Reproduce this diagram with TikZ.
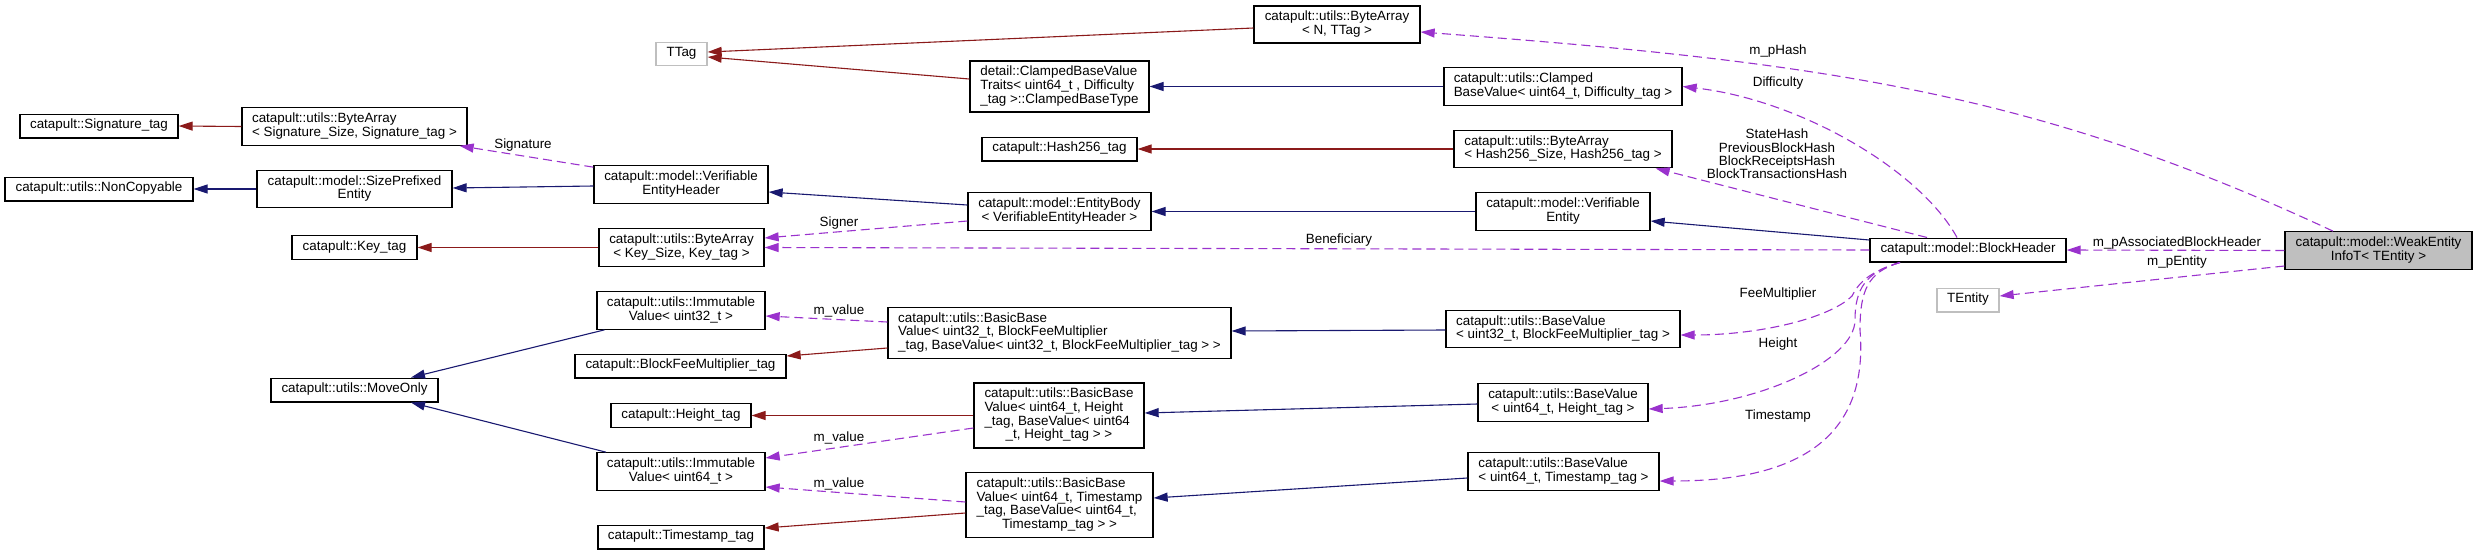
\documentclass[tikz,border=0pt]{standalone}
\usepackage{fontspec}
\setmainfont{Liberation Sans}
\usetikzlibrary{arrows.meta}

\definecolor{edgered}{HTML}{8B1A1A}
\definecolor{edgeblue}{HTML}{191970}
\definecolor{edgeviolet}{HTML}{9A32CD}
\definecolor{boxgray}{HTML}{BFBFBF}

\newcommand{\dxfont}{\fontsize{13.4}{13.3}\selectfont}
\newcommand{\lastln}[1]{\multicolumn{1}{@{}c@{}}{#1}}
\newcommand{\dxlines}[1]{\begin{tabular}{@{}l@{}}#1\end{tabular}}

\tikzset{
  cls/.style={draw=black, line width=1.3pt, fill=white, inner xsep=4pt, inner ysep=5pt, font=\dxfont},
  ghost/.style={cls, draw=boxgray},
  focus/.style={cls, fill=boxgray},
  lbl/.style={font=\dxfont, inner sep=0pt},
  tpl/.style={edgered, line width=1.1pt, -{Triangle[length=14pt,width=9pt]}},
  inh/.style={edgeblue, line width=1.1pt, -{Triangle[length=14pt,width=9pt]}},
  use/.style={edgeviolet, line width=1.1pt, dash pattern=on 9pt off 5pt, -{Triangle[length=14pt,width=9pt]}}
}

\begin{document}
\begin{tikzpicture}[x=1pt, y=-1pt]
  \useasboundingbox (0,0) rectangle (2477,555);

  % first column
  \node[cls, minimum width=158] (sigtag) at (99,126) {\dxlines{catapult::Signature\_tag}};
  \node[cls, minimum width=188] (noncopy) at (99,189) {\dxlines{catapult::utils::NonCopyable}};

  % second column
  \node[cls, minimum width=225] (basig) at (354.5,126.5) {\dxlines{catapult::utils::ByteArray\\\lastln{< Signature\_Size, Signature\_tag >}}};
  \node[cls, minimum width=195] (sizepre) at (354.5,189) {\dxlines{catapult::model::SizePrefixed\\\lastln{Entity}}};
  \node[cls, minimum width=125] (keytag) at (354.5,247.5) {\dxlines{catapult::Key\_tag}};
  \node[cls, minimum width=167] (moveonly) at (354.5,390) {\dxlines{catapult::utils::MoveOnly}};

  % third column
  \node[ghost, minimum width=51] (ttag) at (681.5,54) {\dxlines{TTag}};
  \node[cls, minimum width=174] (veh) at (681,184.5) {\dxlines{catapult::model::Verifiable\\\lastln{EntityHeader}}};
  \node[cls, minimum width=165] (bakey) at (681.5,247.5) {\dxlines{catapult::utils::ByteArray\\\lastln{< Key\_Size, Key\_tag >}}};
  \node[cls, minimum width=168] (imm32) at (681,310.5) {\dxlines{catapult::utils::Immutable\\\lastln{Value< uint32\_t >}}};
  \node[cls, minimum width=211] (feetag) at (680.5,366) {\dxlines{catapult::BlockFeeMultiplier\_tag}};
  \node[cls, minimum width=140] (heighttag) at (681,415.5) {\dxlines{catapult::Height\_tag}};
  \node[cls, minimum width=168] (imm64) at (681,471.5) {\dxlines{catapult::utils::Immutable\\\lastln{Value< uint64\_t >}}};
  \node[cls, minimum width=166] (tstag) at (681,537) {\dxlines{catapult::Timestamp\_tag}};

  % fourth column
  \node[cls, minimum width=179] (traits) at (1059.5,86.5) {\dxlines{detail::ClampedBaseValue\\Traits< uint64\_t , Difficulty\\\lastln{\_tag >::ClampedBaseType}}};
  \node[cls, minimum width=155] (hashtag) at (1059.5,149) {\dxlines{catapult::Hash256\_tag}};
  \node[cls, minimum width=183] (ebody) at (1059.5,211.5) {\dxlines{catapult::model::EntityBody\\\lastln{< VerifiableEntityHeader >}}};
  \node[cls, minimum width=343] (bbv32) at (1059.5,333) {\dxlines{catapult::utils::BasicBase\\Value< uint32\_t, BlockFeeMultiplier\\\lastln{\_tag, BaseValue< uint32\_t, BlockFeeMultiplier\_tag > >}}};
  \node[cls, minimum width=170] (bbvh) at (1059,415.5) {\dxlines{catapult::utils::BasicBase\\Value< uint64\_t, Height\\\_tag, BaseValue< uint64\\\lastln{\_t, Height\_tag > >}}};
  \node[cls, minimum width=187] (bbvt) at (1059.5,505) {\dxlines{catapult::utils::BasicBase\\Value< uint64\_t, Timestamp\\\_tag, BaseValue< uint64\_t,\\\lastln{Timestamp\_tag > >}}};

  % fifth column
  \node[cls, minimum width=166] (bann) at (1337,24.5) {\dxlines{catapult::utils::ByteArray\\\lastln{< N, TTag >}}};
  \node[cls, minimum width=238] (clamped) at (1563,86.5) {\dxlines{catapult::utils::Clamped\\\lastln{BaseValue< uint64\_t, Difficulty\_tag >}}};
  \node[cls, minimum width=218] (bahash) at (1563,149) {\dxlines{catapult::utils::ByteArray\\\lastln{< Hash256\_Size, Hash256\_tag >}}};
  \node[cls, minimum width=174] (ventity) at (1563,211.5) {\dxlines{catapult::model::Verifiable\\\lastln{Entity}}};
  \node[cls, minimum width=234] (bv32) at (1563,329) {\dxlines{catapult::utils::BaseValue\\\lastln{< uint32\_t, BlockFeeMultiplier\_tag >}}};
  \node[cls, minimum width=170] (bvh) at (1563,402.5) {\dxlines{catapult::utils::BaseValue\\\lastln{< uint64\_t, Height\_tag >}}};
  \node[cls, minimum width=191] (bvt) at (1563.5,471.5) {\dxlines{catapult::utils::BaseValue\\\lastln{< uint64\_t, Timestamp\_tag >}}};

  % right part
  \node[cls, minimum width=196] (bheader) at (1968,250) {\dxlines{catapult::model::BlockHeader}};
  \node[ghost, minimum width=62] (tentity) at (1968,300) {\dxlines{TEntity}};
  \node[focus, minimum width=187] (weak) at (2378.5,250.5) {\dxlines{catapult::model::WeakEntity\\\lastln{InfoT< TEntity >}}};

  % template arguments
  \draw[tpl] ([yshift=-3.5]bann.west) -- ([yshift=2]ttag.east);
  \draw[tpl] ([yshift=7.5]traits.west) -- ([yshift=-3]ttag.east);
  \draw[tpl] (bahash.west) -- (hashtag.east);
  \draw[tpl] (basig.west) -- (sigtag.east);
  \draw[tpl] (bakey.west) -- (keytag.east);
  \draw[tpl] ([yshift=-15]bbv32.west) -- ([yshift=10]feetag.east);
  \draw[tpl] (bbvh.west) -- (heighttag.east);
  \draw[tpl] ([yshift=-8]bbvt.west) -- ([yshift=9]tstag.east);

  % base classes
  \draw[inh] (clamped.west) -- (traits.east);
  \draw[inh] (sizepre.west) -- (noncopy.east);
  \draw[inh] ([yshift=-1.5]veh.west) -- ([yshift=1]sizepre.east);
  \draw[inh] ([yshift=6.5]ebody.west) -- ([yshift=-7.5]veh.east);
  \draw[inh] (ventity.west) -- (ebody.east);
  \draw[inh] ([yshift=10]bheader.west) -- ([yshift=-9.5]ventity.east);
  \draw[inh] ([yshift=-1]bv32.west) -- ([yshift=2]bbv32.east);
  \draw[inh] ([xshift=-76.5]imm32.south) -- ([xshift=56.5]moveonly.north);
  \draw[inh] ([xshift=-75]imm64.north) -- ([xshift=56.5]moveonly.south);
  \draw[inh] ([yshift=-1.5]bvh.west) -- ([yshift=2.5]bbvh.east);
  \draw[inh] ([yshift=-6.5]bvt.west) -- ([yshift=7]bbvt.east);

  % members
  \draw[use] ([yshift=-2]veh.north west) -- ([xshift=-8]basig.south east);
  \draw[use] ([yshift=-9.5]ebody.west) -- ([yshift=9.5]bakey.east);
  \draw[use] (bheader.west) -- (bakey.east);
  \draw[use] ([xshift=-41]bheader.north) -- ([xshift=-17]bahash.south east);
  \draw[use] ([xshift=-11]bheader.north) .. controls (1920,170) and (1800,100) .. (clamped.east);
  \draw[use] ([xshift=-45.5]weak.north) .. controls (2033,91) and (1820,62) .. ([yshift=-7.5]bann.east);
  \draw[use] (weak.west) -- (bheader.east);
  \draw[use] ([yshift=-15.5]weak.west) -- ([yshift=4]tentity.east);
  \draw[use] ([xshift=-68]bheader.south) .. controls (1868,272) and (1858,284) .. (1852,296)
    .. controls (1830,318) and (1760,335) .. ([yshift=-6]bv32.east);
  \draw[use] ([xshift=-68]bheader.south) .. controls (1865,272) and (1855,290) .. (1855,320)
    .. controls (1855,360) and (1760,405) .. ([yshift=-6.5]bvh.east);
  \draw[use] ([xshift=-68]bheader.south) .. controls (1868,272) and (1860,290) .. (1860,330)
    .. controls (1870,450) and (1780,481) .. ([yshift=-9.5]bvt.east);
  \draw[use] ([yshift=11]bbv32.west) -- ([yshift=-5.5]imm32.east);
  \draw[use] ([yshift=-12.5]bbvh.west) -- ([yshift=13.5]imm64.east);
  \draw[use] ([yshift=3]bbvt.west) -- ([yshift=-15.5]imm64.east);

  % member labels
  \node[lbl] (lsig) at (523,145) {Signature};
  \node[lbl] (lsigner) at (839,223) {Signer};
  \node[lbl] (lbenef) at (1339,240) {Beneficiary};
  \node[lbl] (lhash) at (1778,51) {m\_pHash};
  \node[lbl] (ldiff) at (1778,83) {Difficulty};
  \node[lbl, align=center] (lhashes) at (1777,154) {StateHash\\PreviousBlockHash\\BlockReceiptsHash\\BlockTransactionsHash};
  \node[lbl] (lassoc) at (2177,243) {m\_pAssociatedBlockHeader};
  \node[lbl] (lentity) at (2177,262) {m\_pEntity};
  \node[lbl] (lfee) at (1778,294) {FeeMultiplier};
  \node[lbl] (lheight) at (1778,344) {Height};
  \node[lbl] (lts) at (1778,416) {Timestamp};
  \node[lbl] (lval1) at (839,311) {m\_value};
  \node[lbl] (lval2) at (839,438) {m\_value};
  \node[lbl] (lval3) at (839,484) {m\_value};
\end{tikzpicture}
\end{document}
